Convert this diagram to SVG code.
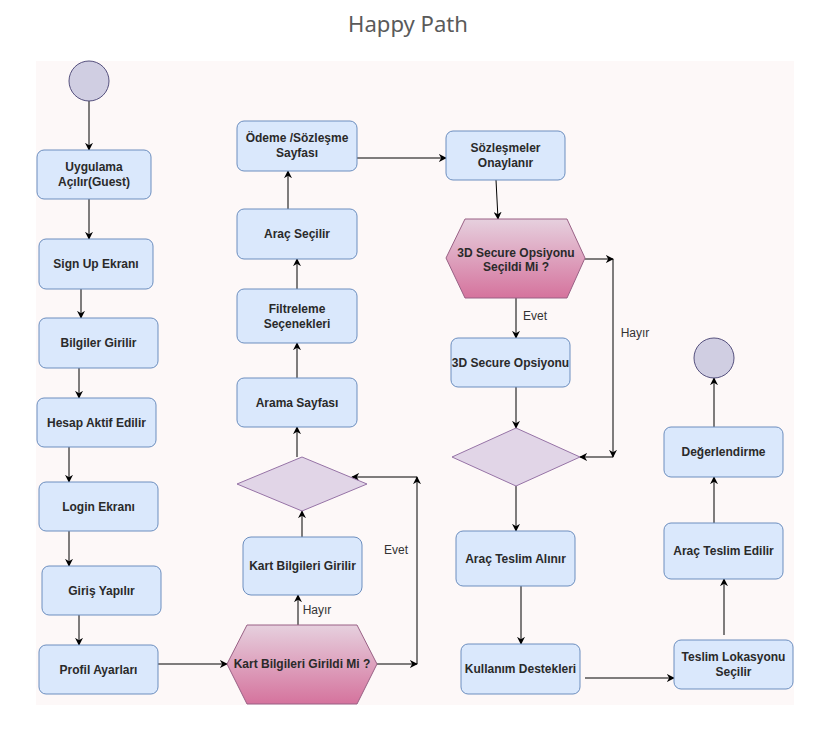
<svg xmlns="http://www.w3.org/2000/svg" width="832" height="730" viewBox="0 0 832 730">
<defs>
<linearGradient id="pinkGrad" x1="0" y1="0" x2="0" y2="1">
<stop offset="0" stop-color="#e6d0de"/>
<stop offset="1" stop-color="#d5739d"/>
</linearGradient>
<marker id="arr" viewBox="0 0 10 10" markerUnits="userSpaceOnUse" markerWidth="8" markerHeight="8" refX="9" refY="5" orient="auto">
<path d="M0,0 L10,5 L0,10 L3,5 z" fill="#000"/>
</marker>
</defs>
<style>
.box{fill:#dae8fc;stroke:#6c8ebf;stroke-width:1}
.hex{fill:url(#pinkGrad);stroke:#996185;stroke-width:1}
.dia{fill:#e1d5e7;stroke:#9673a6;stroke-width:1}
.circ{fill:#d0cee2;stroke:#56517e;stroke-width:1}
.lbl{font-family:"Liberation Sans",Arial,Helvetica,sans-serif;font-size:12px;font-weight:bold;fill:#2a2a2a;text-anchor:middle}
.elbl{font-family:"Liberation Sans",Arial,Helvetica,sans-serif;font-size:12px;fill:#333;text-anchor:middle}
.edge{fill:none;stroke:#000;stroke-width:1;marker-end:url(#arr)}
.title{font-family:"Noto Sans","Open Sans",sans-serif;font-size:21px;fill:#5a5a5a;text-anchor:middle}
</style>
<rect x="0" y="0" width="832" height="730" fill="#ffffff"/>
<rect x="36" y="61" width="758" height="644" fill="#fdf8f8"/>
<text class="title" x="408" y="32" textLength="120" lengthAdjust="spacingAndGlyphs">Happy Path</text>

<g id="connectors">
<path class="edge" d="M89,101 L89,150"/>
<path class="edge" d="M89,199 L89,239"/>
<path class="edge" d="M81,289 L81,318"/>
<path class="edge" d="M79,368 L79,398"/>
<path class="edge" d="M69,447 L69,482"/>
<path class="edge" d="M69,531 L69,566"/>
<path class="edge" d="M79,615 L79,645"/>
<path class="edge" d="M158,664 L227,664"/>
<path class="edge" d="M298,625 L298,595"/>
<path class="edge" d="M302,537 L302,511"/>
<path class="edge" d="M377,664 L417,664"/>
<path class="edge" d="M417,664 L417,477"/>
<path class="edge" d="M417,477 L352,477"/>
<path class="edge" d="M297,457 L297,427"/>
<path class="edge" d="M297,378 L297,343"/>
<path class="edge" d="M297,289 L297,259"/>
<path class="edge" d="M288,209 L288,171"/>
<path class="edge" d="M357,158 L446,158"/>
<path class="edge" d="M496,180 L498,219"/>
<path class="edge" d="M516,298 L516,338"/>
<path class="edge" d="M585,259 L613,259"/>
<path class="edge" d="M613,259 L613,457"/>
<path class="edge" d="M613,457 L580,457"/>
<path class="edge" d="M516,387 L516,428"/>
<path class="edge" d="M516,486 L516,531"/>
<path class="edge" d="M521,586 L521,644"/>
<path class="edge" d="M585,678 L674,678"/>
<path class="edge" d="M724,635 L724,579"/>
<path class="edge" d="M714,523 L714,477"/>
<path class="edge" d="M714,427 L714,378"/>
<text class="elbl" x="317" y="614">Hayır</text>
<text class="elbl" x="396" y="554">Evet</text>
<text class="elbl" x="535" y="320">Evet</text>
<text class="elbl" x="635" y="337">Hayır</text>
</g>

<g id="start"><circle class="circ" cx="89" cy="81" r="20"/></g>
<g id="end"><circle class="circ" cx="714" cy="358" r="20"/></g>

<g id="n-uygulama"><rect class="box" x="37" y="150" width="114" height="49" rx="7"/>
<text class="lbl" x="94" y="171">Uygulama</text><text class="lbl" x="94" y="186">Açılır(Guest)</text></g>
<g id="n-signup"><rect class="box" x="39" y="239" width="114" height="50" rx="7"/>
<text class="lbl" x="96" y="268">Sign Up Ekranı</text></g>
<g id="n-bilgiler"><rect class="box" x="39" y="318" width="119" height="50" rx="7"/>
<text class="lbl" x="98.5" y="347">Bilgiler Girilir</text></g>
<g id="n-hesap"><rect class="box" x="37" y="398" width="119" height="49" rx="7"/>
<text class="lbl" x="96.5" y="426.5">Hesap Aktif Edilir</text></g>
<g id="n-login"><rect class="box" x="39" y="482" width="119" height="49" rx="7"/>
<text class="lbl" x="98.5" y="510.5">Login Ekranı</text></g>
<g id="n-giris"><rect class="box" x="42" y="566" width="119" height="49" rx="7"/>
<text class="lbl" x="101.5" y="594.5">Giriş Yapılır</text></g>
<g id="n-profil"><rect class="box" x="39" y="645" width="119" height="49" rx="7"/>
<text class="lbl" x="98.5" y="673.5">Profil Ayarları</text></g>

<g id="n-kartq"><polygon class="hex" points="227,664 247,625 357,625 377,664 357,704 247,704"/>
<text class="lbl" x="302" y="668">Kart Bilgileri Girildi Mi ?</text></g>
<g id="n-kart"><rect class="box" x="243" y="537" width="119" height="58" rx="8"/>
<text class="lbl" x="302.5" y="570">Kart Bilgileri Girilir</text></g>
<g id="n-dia1"><polygon class="dia" points="237,484 302,457 367,484 302,511"/></g>
<g id="n-arama"><rect class="box" x="237" y="378" width="120" height="49" rx="7"/>
<text class="lbl" x="297" y="406.5">Arama Sayfası</text></g>
<g id="n-filtre"><rect class="box" x="237" y="289" width="120" height="54" rx="7"/>
<text class="lbl" x="297" y="313">Filtreleme</text><text class="lbl" x="297" y="328">Seçenekleri</text></g>
<g id="n-arac"><rect class="box" x="237" y="209" width="120" height="50" rx="7"/>
<text class="lbl" x="297" y="238">Araç Seçilir</text></g>
<g id="n-odeme"><rect class="box" x="237" y="121" width="120" height="50" rx="7"/>
<text class="lbl" x="297" y="142">Ödeme /Sözleşme</text><text class="lbl" x="297" y="157">Sayfası</text></g>

<g id="n-sozlesme"><rect class="box" x="446" y="131" width="119" height="49" rx="7"/>
<text class="lbl" x="505.5" y="152">Sözleşmeler</text><text class="lbl" x="505.5" y="167">Onaylanır</text></g>
<g id="n-3dq"><polygon class="hex" points="446,258 465,219 567,219 585,258 567,298 465,298"/>
<text class="lbl" x="516" y="257">3D Secure Opsiyonu</text><text class="lbl" x="516" y="271">Seçildi Mi ?</text></g>
<g id="n-3d"><rect class="box" x="451" y="338" width="119" height="49" rx="7"/>
<text class="lbl" x="510.5" y="366.5">3D Secure Opsiyonu</text></g>
<g id="n-dia2"><polygon class="dia" points="452,457 516,428 580,457 516,486"/></g>
<g id="n-teslimal"><rect class="box" x="456" y="531" width="119" height="55" rx="7"/>
<text class="lbl" x="515.5" y="562.5">Araç Teslim Alınır</text></g>
<g id="n-kullanim"><rect class="box" x="461" y="644" width="119" height="50" rx="7"/>
<text class="lbl" x="520.5" y="673">Kullanım Destekleri</text></g>
<g id="n-lokasyon"><rect class="box" x="674" y="640" width="119" height="49" rx="7"/>
<text class="lbl" x="733.5" y="661">Teslim Lokasyonu</text><text class="lbl" x="733.5" y="676">Seçilir</text></g>
<g id="n-teslimed"><rect class="box" x="664" y="523" width="119" height="56" rx="7"/>
<text class="lbl" x="723.5" y="555">Araç Teslim Edilir</text></g>
<g id="n-degerlendirme"><rect class="box" x="664" y="427" width="119" height="50" rx="7"/>
<text class="lbl" x="723.5" y="456">Değerlendirme</text></g>
</svg>
